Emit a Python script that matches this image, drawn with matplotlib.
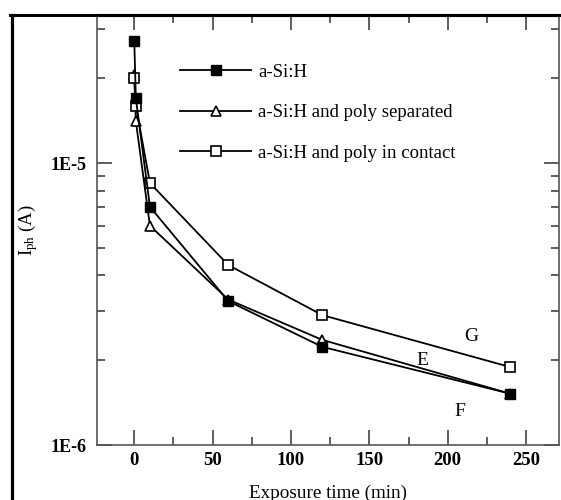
import numpy as np
import matplotlib
matplotlib.use('Agg')
import matplotlib.pyplot as plt
from matplotlib.lines import Line2D
from matplotlib.ticker import FixedLocator, FixedFormatter, LogLocator, NullFormatter, MultipleLocator

plt.rcParams['font.family'] = ['Liberation Serif', 'DejaVu Serif']
plt.rcParams['mathtext.fontset'] = 'custom'
plt.rcParams['mathtext.rm'] = 'Liberation Serif'
plt.rcParams['mathtext.it'] = 'Liberation Serif'

# exposure time (min) and photocurrent (A)
time = [0, 1, 10, 60, 120, 240]
asih = [2.72e-5, 1.70e-5, 7.0e-6, 3.24e-6, 2.23e-6, 1.52e-6]
separated = [2.05e-5, 1.41e-5, 6.0e-6, 3.28e-6, 2.36e-6, 1.52e-6]
contact = [2.0e-5, 1.6e-5, 8.5e-6, 4.35e-6, 2.89e-6, 1.89e-6]
labels = ['a-Si:H', 'a-Si:H and poly separated', 'a-Si:H and poly in contact']
curve_names = ['G', 'E', 'F']
curve_x = [215, 184, 208]
curve_y = [2.42e-6, 1.99e-6, 1.32e-6]

fig = plt.figure(figsize=(5.61, 5.0), dpi=100)
ax = fig.add_axes([96.5 / 561, 1 - 445 / 500, (559 - 96.5) / 561, (445 - 14.5) / 500])

ax.plot(time, asih, '-s', color='black', mfc='black', mec='black', ms=7.8, lw=1.3, label=labels[0], zorder=5)
ax.plot(time, separated, '-^', color='black', mfc='white', mec='black', ms=7.5, mew=1.2, lw=1.3, label=labels[1], zorder=3)
ax.plot(time, contact, '-s', color='black', mfc='white', mec='black', ms=7, mew=1.2, lw=1.3, label=labels[2], zorder=4)

ax.set_yscale('log')
ax.set_xlim(-24.1, 271)
ax.set_ylim(1e-6, 3.37e-5)

ax.xaxis.set_major_locator(MultipleLocator(50))
ax.xaxis.set_minor_locator(MultipleLocator(25))
ax.yaxis.set_major_locator(FixedLocator([1e-6, 1e-5]))
ax.yaxis.set_major_formatter(FixedFormatter(['1E-6', '1E-5']))
ax.yaxis.set_minor_locator(LogLocator(base=10, subs=np.arange(2, 10)))
ax.yaxis.set_minor_formatter(NullFormatter())

ax.tick_params(which='both', direction='in', top=True, right=True, width=1.1, color='#333333')
ax.tick_params(which='major', length=11)
ax.tick_params(which='minor', length=5.5)
ax.tick_params(axis='x', labelsize=13.5, pad=5)
ax.tick_params(axis='y', labelsize=13, pad=7)
for lab in ax.get_xticklabels() + ax.get_yticklabels():
    lab.set_fontweight('bold')

for side in ['left', 'bottom', 'right']:
    ax.spines[side].set_color('#555555')
    ax.spines[side].set_linewidth(1.2)
ax.spines['top'].set_color('black')
ax.spines['top'].set_linewidth(2.2)

ax.set_xlabel('Exposure time (min)', fontsize=13.8, labelpad=11)
ax.set_ylabel('I$_{\\mathrm{ph}}$ (A)', fontsize=13.5, labelpad=8)

for name, cx, cy in zip(curve_names, curve_x, curve_y):
    ax.text(cx, cy, name, fontsize=14, ha='center', va='center')

leg = fig.legend(loc='upper left', bbox_to_anchor=(180 / 561, 1 - 63.5 / 500), frameon=False,
                 fontsize=13.5, handlelength=3.8, handletextpad=0.38, labelspacing=1.25,
                 borderpad=0, borderaxespad=0)

# outer frame of the figure
fig.add_artist(Line2D([11.5 / 561, 11.5 / 561], [0, 1 - 14.5 / 500], color='black', lw=2.3, transform=fig.transFigure))
fig.add_artist(Line2D([10 / 561, 1], [1 - 14.5 / 500, 1 - 14.5 / 500], color='black', lw=2.2, transform=fig.transFigure))

fig.savefig('out.png', dpi=100)
